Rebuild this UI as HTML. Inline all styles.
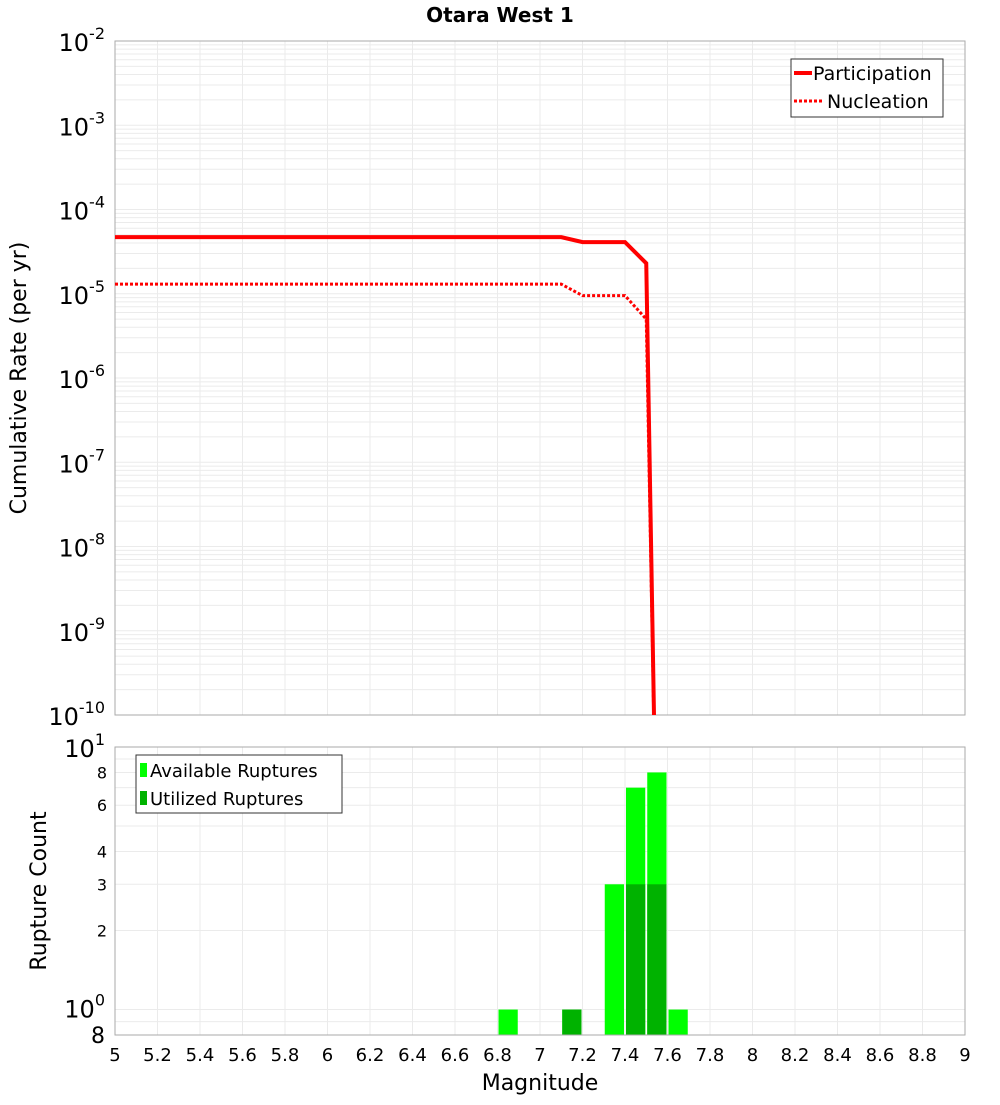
<!DOCTYPE html>
<html><head><meta charset="utf-8"><style>
body{margin:0;background:#fff;width:1000px;height:1100px;overflow:hidden}
svg{font-family:"DejaVu Sans","Liberation Sans",sans-serif}
</style></head><body>
<svg id="c" width="1000" height="1100"></svg>
<script>
const mags=[5,7.1,7.2,7.4,7.5,7.55];
const participation=[4.7e-5,4.7e-5,4.1e-5,4.1e-5,2.3e-5,1e-12];
const nucleation=[1.3e-5,1.3e-5,9.5e-6,9.5e-6,5e-6,1e-12];
const binCenters=[6.85,7.15,7.35,7.45,7.55,7.65];
const available=[1,1,3,7,8,1];
const utilized=[0,1,0,3,3,0];
const xTicks=[5,5.2,5.4,5.6,5.8,6,6.2,6.4,6.6,6.8,7,7.2,7.4,7.6,7.8,8,8.2,8.4,8.6,8.8,9];
const topExps=[-2,-3,-4,-5,-6,-7,-8,-9,-10];
const botTicks=[8,6,4,3,2];

const S=document.getElementById('c'),NS='http://www.w3.org/2000/svg';
function el(t,a,p){const e=document.createElementNS(NS,t);for(const k in a)e.setAttribute(k,a[k]);(p||S).appendChild(e);return e;}
const X0=115,X1=965;
const x=m=>X0+(m-5)/4*(X1-X0);
const T0=41,T1=715;
const yT=v=>T0+(-2-Math.log10(v))/8*(T1-T0);
const B0=747,B1=1035;
const yB=v=>B0+(1-Math.log10(v))/(1-Math.log10(0.8))*(B1-B0);

// title
let t=el('text',{x:500,y:22,'text-anchor':'middle','font-size':20,'font-weight':'bold'});t.textContent='Otara West 1';


// top grid
const gt=el('g',{});
for(let e=-10;e<-2;e++)for(let k=1;k<10;k++){const yy=yT(k*Math.pow(10,e));el('line',{x1:X0,x2:X1,y1:yy,y2:yy,stroke:'#ebebeb'},gt);}
xTicks.forEach(m=>el('line',{x1:x(m),x2:x(m),y1:T0,y2:T1,stroke:'#ebebeb'},gt));
let r=el('rect',{x:X0,y:T0,width:X1-X0,height:T1-T0,fill:'none',stroke:'#aaa'});

topExps.forEach(e=>{const yy=yT(Math.pow(10,e));const tx=el('text',{x:105,y:yy+10,'text-anchor':'end','font-size':24});

tx.innerHTML='10<tspan dy="-12" font-size="16">'+e+'</tspan>';});
t=el('text',{x:26,y:378,'text-anchor':'middle','font-size':22,transform:'rotate(-90 26 378)'});t.textContent='Cumulative Rate (per yr)';


// lines
const cp=el('clipPath',{id:'cpT'});el('rect',{x:X0,y:T0,width:X1-X0,height:T1-T0},cp);
function path(vals){return vals.map((v,i)=>(i?'L':'M')+x(mags[i])+','+yT(v)).join('');}
let p=el('path',{d:path(participation),fill:'none',stroke:'#f00','stroke-width':4,'clip-path':'url(#cpT)'});

p=el('path',{d:path(nucleation),fill:'none',stroke:'#f00','stroke-width':3,'stroke-dasharray':'3,2','clip-path':'url(#cpT)'});


// top legend
const lg=el('g',{});
el('rect',{x:791,y:59,width:152,height:58,fill:'#fff',stroke:'#333'},lg);
el('line',{x1:794,x2:812,y1:73,y2:73,stroke:'#f00','stroke-width':4},lg);
t=el('text',{x:813,y:80,'font-size':19},lg);t.textContent='Participation';
el('line',{x1:794,x2:822,y1:101,y2:101,stroke:'#f00','stroke-width':3,'stroke-dasharray':'3,2'},lg);
t=el('text',{x:827,y:108,'font-size':19},lg);t.textContent='Nucleation';

// bottom grid
const gb=el('g',{});
[0.8,0.9,1,2,3,4,5,6,7,8,9].forEach(v=>el('line',{x1:X0,x2:X1,y1:yB(v),y2:yB(v),stroke:'#ebebeb'},gb));
xTicks.forEach(m=>el('line',{x1:x(m),x2:x(m),y1:B0,y2:B1,stroke:'#ebebeb'},gb));
// bars
const bw=x(5.1)-x(5)-2;
binCenters.forEach((c,i)=>{
 let b=el('rect',{x:x(c)-bw/2,y:yB(available[i]),width:bw,height:B1-yB(available[i]),fill:'#00ff00'});
 
 if(utilized[i]>0){b=el('rect',{x:x(c)-bw/2,y:yB(utilized[i]),width:bw,height:B1-yB(utilized[i]),fill:'#00b200'});
 }
});
r=el('rect',{x:X0,y:B0,width:X1-X0,height:B1-B0,fill:'none',stroke:'#aaa'});

t=el('text',{x:105,y:B0+10,'text-anchor':'end','font-size':24});t.innerHTML='10<tspan dy="-12" font-size="16">1</tspan>';

t=el('text',{x:105,y:yB(1)+8,'text-anchor':'end','font-size':24});t.innerHTML='10<tspan dy="-12" font-size="16">0</tspan>';

t=el('text',{x:105,y:B1+8,'text-anchor':'end','font-size':22});t.textContent='8';

botTicks.forEach(v=>{const tx=el('text',{x:107,y:yB(v)+6,'text-anchor':'end','font-size':16});tx.textContent=v;
});
t=el('text',{x:46,y:891,'text-anchor':'middle','font-size':22,transform:'rotate(-90 46 891)'});t.textContent='Rupture Count';

xTicks.forEach(m=>{const tx=el('text',{x:x(m),y:1061,'text-anchor':'middle','font-size':18});tx.textContent=String(m);
});
t=el('text',{x:540,y:1090,'text-anchor':'middle','font-size':22});t.textContent='Magnitude';


// bottom legend
const lb=el('g',{});
el('rect',{x:136,y:755,width:206,height:58,fill:'#fff',stroke:'#333'},lb);
el('rect',{x:140,y:763,width:7,height:14,fill:'#00ff00'},lb);
t=el('text',{x:150,y:777,'font-size':18},lb);t.textContent='Available Ruptures';
el('rect',{x:140,y:791,width:7,height:14,fill:'#00b200'},lb);
t=el('text',{x:150,y:805,'font-size':18},lb);t.textContent='Utilized Ruptures';
</script>
</body></html>
